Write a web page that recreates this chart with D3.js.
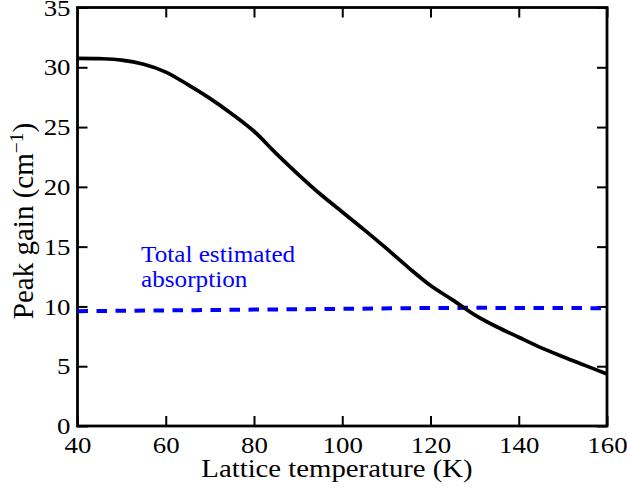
<!DOCTYPE html>
<html lang="en">
<head>
    <meta charset="UTF-8">
    <title>Peak gain vs lattice temperature</title>
    <script src="https://d3js.org/d3.v7.min.js"></script>
    <style>
        body { margin: 0; background: #fff; }
        .serif { font-family: 'Liberation Serif'; }
    </style>
</head>
<body>
<div id="chart"></div>
<script>
    // Peak gain curve (cm^-1)
    let temps = [40, 45, 50, 55, 60, 65, 70, 75, 80, 85, 90, 95, 100, 105, 110, 115, 120, 125, 130, 135, 140, 145, 150, 155, 160];
    let gain = [30.75, 30.72, 30.6, 30.25, 29.6, 28.55, 27.4, 26.1, 24.65, 22.8, 21.05, 19.4, 17.9, 16.4, 14.85, 13.25, 11.75, 10.55, 9.3, 8.3, 7.42, 6.55, 5.79, 5.07, 4.35];

    // Total estimated absorption (dashed)
    let absTemps = [40, 70, 100, 130, 160];
    let absorption = [9.6, 9.7, 9.8, 9.88, 9.85];

    let xTicks = [40, 60, 80, 100, 120, 140, 160];
    let yTicks = [0, 5, 10, 15, 20, 25, 30, 35];

    let W = 627, H = 488;
    let margin = {top: 7.5, right: 20, bottom: 62, left: 77.5};
    let width = W - margin.left - margin.right;
    let height = H - margin.top - margin.bottom;

    let svg = d3.select('#chart')
        .append('svg')
        .attr('width', W)
        .attr('height', H)
        .append('g')
        .attr('transform', 'translate(' + margin.left + ',' + margin.top + ')');

    let x = d3.scaleLinear().domain([40, 160]).range([0, width]);
    let y = d3.scaleLinear().domain([0, 35]).range([height, 0]);

    // axes, ticks pointing inward on all four sides
    let bottom = svg.append('g')
        .attr('transform', 'translate(0,' + height + ')')
        .call(d3.axisBottom(x).tickValues(xTicks).tickSize(-10).tickPadding(9.5));
    let left = svg.append('g')
        .call(d3.axisLeft(y).tickValues(yTicks).tickSize(-10).tickPadding(0));
    svg.append('g')
        .call(d3.axisTop(x).tickValues(xTicks).tickSize(-10).tickFormat(''));
    svg.append('g')
        .attr('transform', 'translate(' + width + ',0)')
        .call(d3.axisRight(y).tickValues(yTicks).tickSize(-10).tickFormat(''));

    svg.selectAll('.domain').remove();
    svg.selectAll('g').attr('font-family', null).attr('font-size', null);
    svg.selectAll('.tick line').attr('stroke', '#000').attr('stroke-width', 2);
    svg.selectAll('.tick text')
        .attr('class', 'serif')
        .attr('fill', '#000')
        .attr('font-size', 24);
    // widen the digits a little (the original face is broader than Times)
    bottom.selectAll('.tick text').attr('transform', 'scale(1.12,1)');
    left.selectAll('.tick text').attr('x', 0).attr('transform', 'translate(-7,0) scale(1.12,1)');

    // frame
    svg.append('rect')
        .attr('width', width)
        .attr('height', height)
        .attr('fill', 'none')
        .attr('stroke', '#000')
        .attr('stroke-width', 2.8);

    // absorption line
    let absLine = d3.line()
        .x(function (d, i) { return x(absTemps[i]); })
        .y(function (d) { return y(d); })
        .curve(d3.curveMonotoneX);
    svg.append('path')
        .datum(absorption)
        .attr('d', absLine)
        .attr('fill', 'none')
        .attr('stroke', '#0000ff')
        .attr('stroke-width', 4)
        .attr('stroke-dasharray', '10.5,8.5');

    // gain curve
    let gainLine = d3.line()
        .x(function (d, i) { return x(temps[i]); })
        .y(function (d) { return y(d); })
        .curve(d3.curveCatmullRom);
    svg.append('path')
        .datum(gain)
        .attr('d', gainLine)
        .attr('fill', 'none')
        .attr('stroke', '#000')
        .attr('stroke-width', 3.7)
        .attr('stroke-linejoin', 'round');

    // annotation
    let note = svg.append('text')
        .attr('class', 'serif')
        .attr('transform', 'translate(' + (141 - margin.left) + ',' + (261.7 - margin.top) + ') scale(1.12,1)')
        .attr('fill', '#0000ff')
        .attr('font-size', 22.5);
    note.append('tspan').attr('x', 0).text('Total estimated');
    note.append('tspan').attr('x', 0).attr('dy', 25).text('absorption');

    // axis labels
    svg.append('text')
        .attr('class', 'serif')
        .attr('transform', 'translate(' + (337 - margin.left) + ',' + (477 - margin.top) + ') scale(1.15,1)')
        .attr('text-anchor', 'middle')
        .attr('font-size', 25)
        .text('Lattice temperature (K)');

    let yl = svg.append('text')
        .attr('class', 'serif')
        .attr('transform', 'translate(' + (33 - margin.left) + ',' + (221 - margin.top) + ') rotate(-90)')
        .attr('text-anchor', 'middle')
        .attr('font-size', 29);
    yl.append('tspan').text('Peak gain (cm');
    yl.append('tspan').attr('dy', -10).attr('font-size', 19.5).text('\u22121');
    yl.append('tspan').attr('dy', 10).text(')');
</script>
</body>
</html>
